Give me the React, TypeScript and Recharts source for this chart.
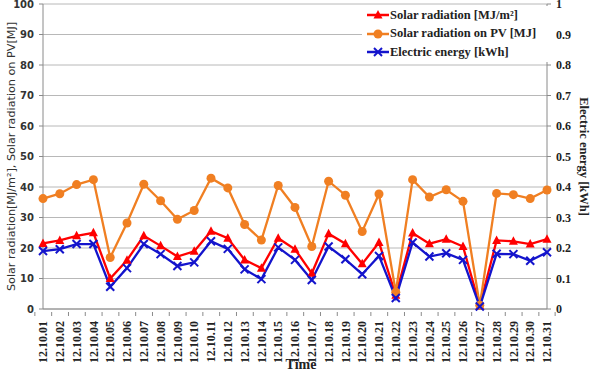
import { CartesianGrid, Line, LineChart, XAxis, YAxis } from "recharts";

const DATES = [
  "12.10.01", "12.10.02", "12.10.03", "12.10.04", "12.10.05", "12.10.06", "12.10.07", "12.10.08",
  "12.10.09", "12.10.10", "12.10.11", "12.10.12", "12.10.13", "12.10.14", "12.10.15", "12.10.16",
  "12.10.17", "12.10.18", "12.10.19", "12.10.20", "12.10.21", "12.10.22", "12.10.23", "12.10.24",
  "12.10.25", "12.10.26", "12.10.27", "12.10.28", "12.10.29", "12.10.30", "12.10.31",
];

// solar radiation [MJ/m2]
const SOLAR = [
  21.5, 22.5, 24, 25, 10, 16, 24, 20.7, 17.2, 18.9, 25.5, 23.2, 16.1, 13.4, 23.2, 19.6,
  11.7, 24.7, 21.4, 14.8, 21.8, 4.5, 24.9, 21.4, 22.9, 20.5, 1, 22.5, 22.2, 21.3, 22.9,
];

// solar radiation on PV [MJ]
const SOLAR_PV = [
  36.2, 37.8, 40.8, 42.4, 16.9, 28.2, 40.9, 35.5, 29.4, 32.3, 42.9, 39.7, 27.7, 22.6, 40.5, 33.3,
  20.5, 41.9, 37.3, 25.4, 37.7, 5.5, 42.4, 36.7, 39.1, 35.3, 1.2, 37.9, 37.5, 36.2, 39,
];

// electric energy [kWh]
const ENERGY = [
  0.19, 0.196, 0.213, 0.213, 0.073, 0.134, 0.213, 0.18, 0.141, 0.153, 0.222, 0.197, 0.13, 0.098, 0.202, 0.161,
  0.095, 0.205, 0.163, 0.114, 0.174, 0.036, 0.218, 0.172, 0.183, 0.161, 0.008, 0.181, 0.18, 0.158, 0.186,
];

const LEFT_TICKS = [0, 10, 20, 30, 40, 50, 60, 70, 80, 90, 100];
const RIGHT_TICKS = [0, 0.1, 0.2, 0.3, 0.4, 0.5, 0.6, 0.7, 0.8, 0.9, 1];

const RED = "#ff0000";
const ORANGE = "#f07f22";
const BLUE = "#1414cc";
const AXIS = "#8a8a8a";
const SERIF = "'Liberation Serif', serif";
const SANS = "'DejaVu Sans', sans-serif";

const W = 591;
const H = 372;
const LEFT_W = 43;
const RIGHT_W = 44;
const BAND = (W - LEFT_W - RIGHT_W) / DATES.length;

const data = DATES.map((d, i) => ({ date: d, solar: SOLAR[i], pv: SOLAR_PV[i], energy: ENERGY[i] }));

function Triangle({ cx, cy, color }: any) {
  if (cx == null || cy == null) return null;
  return <polygon points={`${cx},${cy - 5} ${cx - 4.5},${cy + 3.5} ${cx + 4.5},${cy + 3.5}`} fill={color} />;
}

function Circle({ cx, cy, color }: any) {
  if (cx == null || cy == null) return null;
  return <circle cx={cx} cy={cy} r={4.5} fill={color} />;
}

function Cross({ cx, cy, color }: any) {
  if (cx == null || cy == null) return null;
  const s = 4;
  return (
    <g stroke={color} strokeWidth={2}>
      <line x1={cx - s} y1={cy - s} x2={cx + s} y2={cy + s} />
      <line x1={cx - s} y1={cy + s} x2={cx + s} y2={cy - s} />
    </g>
  );
}

function XTick({ x, y, payload, index }: any) {
  const top = y - 4;
  return (
    <g>
      <line x1={x - BAND / 2} x2={x - BAND / 2} y1={top - 1} y2={top + 3} stroke={AXIS} />
      {index === DATES.length - 1 && (
        <line x1={x + BAND / 2} x2={x + BAND / 2} y1={top - 1} y2={top + 3} stroke={AXIS} />
      )}
      <text
        transform={`translate(${x},${top + 8}) rotate(-90)`}
        textAnchor="end"
        dy="0.35em"
        fontFamily={SERIF}
        fontWeight="bold"
        fontSize={12}
        fill="#222"
      >
        {payload.value}
      </text>
    </g>
  );
}

const SERIES = [
  { name: "Solar radiation [MJ/m²]", color: RED, Marker: Triangle },
  { name: "Solar radiation on PV [MJ]", color: ORANGE, Marker: Circle },
  { name: "Electric energy [kWh]", color: BLUE, Marker: Cross },
];

function LegendBox() {
  return (
    <div style={{ position: "absolute", left: 362, top: 6, width: 184, background: "#fff", paddingLeft: 5 }}>
      {SERIES.map((s) => (
        <div key={s.name} style={{ display: "flex", alignItems: "center", height: 18.5 }}>
          <svg width={22} height={12} style={{ marginRight: 1 }}>
            <line x1={0} x2={22} y1={6} y2={6} stroke={s.color} strokeWidth={2.5} />
            <s.Marker cx={11} cy={6} color={s.color} />
          </svg>
          <span style={{ fontFamily: SERIF, fontWeight: "bold", fontSize: 12.5, color: "#222", whiteSpace: "nowrap" }}>
            {s.name}
          </span>
        </div>
      ))}
    </div>
  );
}

export default function App() {
  return (
    <div style={{ position: "absolute", left: 0, top: 0, width: W, height: H, background: "#fff" }}>
      <LineChart width={W} height={H} data={data} margin={{ top: 4, right: 0, bottom: 0, left: 0 }}>
        <CartesianGrid vertical={false} stroke="#b8b8b8" yAxisId="left" />
        <XAxis
          dataKey="date"
          interval={0}
          height={63}
          tickLine={false}
          axisLine={{ stroke: AXIS }}
          tick={<XTick />}
          label={{
            value: "Time",
            position: "insideBottom",
            offset: 3,
            dx: 6,
            style: { fontFamily: SERIF, fontWeight: "bold", fontSize: 14, fill: "#222" },
          }}
        />
        <YAxis
          yAxisId="left"
          width={LEFT_W}
          domain={[0, 100]}
          ticks={LEFT_TICKS}
          interval={0}
          axisLine={{ stroke: AXIS }}
          tickLine={{ stroke: AXIS }}
          tickSize={4}
          tickMargin={5}
          tick={{ fontFamily: SANS, fontWeight: "bold", fontSize: 10, fill: "#333" }}
          label={{
            value: "Solar radiation[MJ/m²], Solar radiation on PV[MJ]",
            angle: -90,
            position: "insideLeft",
            offset: 11,
            style: { textAnchor: "middle", fontFamily: SANS, fontSize: 11.2, fill: "#333" },
          }}
        />
        <YAxis
          yAxisId="right"
          orientation="right"
          width={RIGHT_W}
          domain={[0, 1]}
          ticks={RIGHT_TICKS}
          interval={0}
          axisLine={{ stroke: AXIS }}
          tickLine={{ stroke: AXIS }}
          tickSize={4}
          tickMargin={5}
          tick={{ fontFamily: SERIF, fontWeight: "bold", fontSize: 12, fill: "#222" }}
          label={{
            value: "Electric energy [kWh]",
            angle: 90,
            position: "insideRight",
            offset: 7,
            style: { textAnchor: "middle", fontFamily: SERIF, fontWeight: "bold", fontSize: 12.5, fill: "#222" },
          }}
        />
        <Line
          yAxisId="left"
          dataKey="solar"
          stroke={RED}
          strokeWidth={2.3}
          dot={(p: any) => <Triangle key={p.index} cx={p.cx} cy={p.cy} color={RED} />}
          isAnimationActive={false}
        />
        <Line
          yAxisId="left"
          dataKey="pv"
          stroke={ORANGE}
          strokeWidth={2.3}
          dot={(p: any) => <Circle key={p.index} cx={p.cx} cy={p.cy} color={ORANGE} />}
          isAnimationActive={false}
        />
        <Line
          yAxisId="right"
          dataKey="energy"
          stroke={BLUE}
          strokeWidth={2.3}
          dot={(p: any) => <Cross key={p.index} cx={p.cx} cy={p.cy} color={BLUE} />}
          isAnimationActive={false}
        />
      </LineChart>
      <LegendBox />
    </div>
  );
}
